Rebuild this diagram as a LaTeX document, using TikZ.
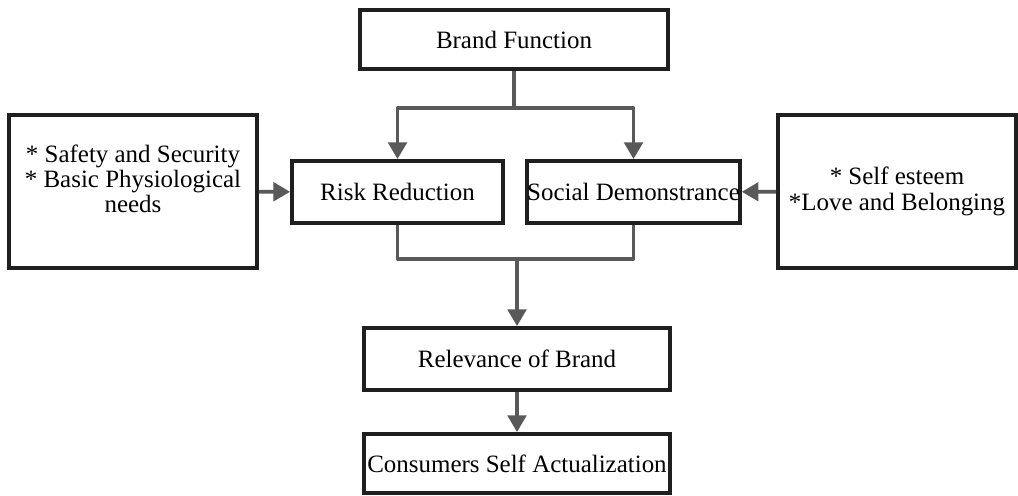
\documentclass[tikz,border=0pt]{standalone}
\usepackage{fontspec}
\setmainfont{Liberation Serif}
\usetikzlibrary{arrows.meta}

\begin{document}
\begin{tikzpicture}[x=0.02cm,y=-0.02cm,
    box/.style={draw=black!88,line width=2.2pt,inner sep=0pt,align=center,
      font=\fontsize{14.2pt}{14.4pt}\selectfont},
    link/.style={draw=black!65,line width=2.1pt,line join=round},
    flow/.style={link,-{Triangle[length=9.5pt,width=10.5pt]}}]
\useasboundingbox (0,0) rectangle (1018,495);
%%   kw   (name)   (x, y)   {text}
    \node[box,minimum width=6.16cm,minimum height=1.18cm] (brand) at (514,39.5) {Brand Function};
    \node[box,minimum width=4.96cm,minimum height=3.06cm] (basic) at (133,191.5) {* Safety and Security\\ * Basic Physiological\\ needs\\ \mbox{}};
    \node[box,minimum width=4.22cm,minimum height=1.24cm] (risk) at (397.5,192) {Risk Reduction};
    \node[box,minimum width=4.22cm,minimum height=1.24cm] (social) at (633.5,192) {Social Demonstrance};
    \node[box,minimum width=4.76cm,minimum height=3.06cm] (esteem) at (897,191.5) {* Self esteem\\ *Love and Belonging};
    \node[box,minimum width=6.12cm,minimum height=1.24cm] (relevance) at (517,359) {Relevance of Brand};
    \node[box,minimum width=6.12cm,minimum height=1.18cm] (actual) at (517,463.5) {Consumers Self Actualization};
    \coordinate (split) at (514,108);
    \coordinate (merge) at (517,259);
    \draw[link] (brand) -- (split);
    \draw[flow] (split) -| (risk);
    \draw[flow] (split) -| (social);
    \draw[flow] (basic) -- (risk);
    \draw[flow] (esteem) -- (social);
    \draw[link] (risk) |- (merge);
    \draw[link] (social) |- (merge);
    \draw[flow] (merge) -- (relevance);
    \draw[flow] (relevance) -- (actual);
\end{tikzpicture}
\end{document}
